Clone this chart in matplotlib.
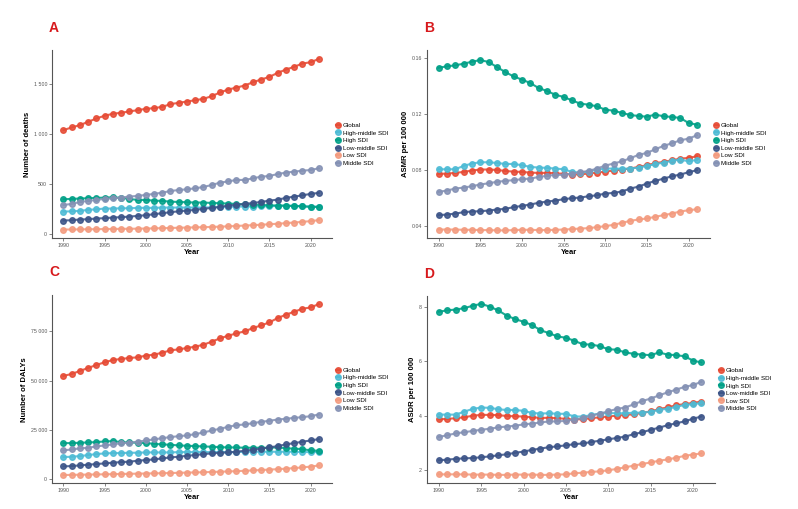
import numpy as np
import matplotlib
matplotlib.use("Agg")
import matplotlib.pyplot as plt

plt.rcParams["font.family"] = "Liberation Sans"

years = list(range(1990, 2022))
regions = ["Global", "High-middle SDI", "High SDI", "Low-middle SDI", "Low SDI", "Middle SDI"]
colors = ["#E64B35", "#4DBBD5", "#00A087", "#3C5488", "#F39B7F", "#8491B4"]

# A - number of deaths
deaths_global = [1036, 1063, 1086, 1119, 1152, 1179, 1199, 1209, 1222, 1235, 1248, 1255, 1268, 1295, 1308, 1321,
                 1334, 1348, 1374, 1411, 1440, 1460, 1480, 1513, 1540, 1566, 1606, 1639, 1666, 1699, 1712, 1745]
deaths_highmid = [225, 228, 232, 242, 248, 255, 255, 258, 258, 262, 262, 262, 265, 265, 265, 265,
                  265, 265, 268, 268, 272, 275, 275, 275, 278, 278, 281, 281, 281, 278, 275, 272]
deaths_high = [348, 351, 355, 358, 361, 364, 368, 361, 351, 341, 341, 334, 331, 324, 321, 318,
               315, 315, 311, 308, 305, 301, 298, 295, 291, 288, 285, 285, 281, 278, 272, 272]
deaths_lowmid = [136, 139, 146, 149, 156, 159, 166, 169, 175, 182, 189, 199, 209, 219, 228, 235,
                 242, 252, 262, 272, 285, 291, 301, 311, 321, 334, 344, 361, 374, 387, 401, 411]
deaths_low = [46, 47, 48, 49, 50, 51, 52, 53, 54, 55, 56, 58, 60, 62, 64, 66,
              68, 70, 72, 75, 78, 82, 86, 90, 94, 99, 104, 110, 116, 123, 130, 140]
deaths_middle = [291, 301, 321, 331, 341, 351, 358, 364, 374, 381, 391, 401, 414, 430, 440, 447,
                 457, 470, 490, 513, 526, 540, 540, 556, 573, 579, 599, 613, 623, 632, 639, 656]

# B - ASMR per 100 000
asmr_global = [0.0774, 0.0776, 0.0781, 0.0788, 0.0798, 0.0805, 0.0805, 0.0802, 0.0795, 0.0790, 0.0788, 0.0783,
               0.0781, 0.0781, 0.0779, 0.0774, 0.0769, 0.0771, 0.0776, 0.0783, 0.0790, 0.0798, 0.0805, 0.0812,
               0.0824, 0.0836, 0.0850, 0.0860, 0.0871, 0.0883, 0.0888, 0.0900]
asmr_highmid = [0.0807, 0.0807, 0.0807, 0.0831, 0.0848, 0.0857, 0.0857, 0.0852, 0.0845, 0.0845, 0.0836, 0.0824,
                0.0819, 0.0817, 0.0812, 0.0807, 0.0788, 0.0783, 0.0790, 0.0805, 0.0812, 0.0812, 0.0810, 0.0812,
                0.0819, 0.0831, 0.0843, 0.0855, 0.0867, 0.0876, 0.0864, 0.0874]
asmr_high = [0.1533, 0.1543, 0.1550, 0.1562, 0.1576, 0.1588, 0.1574, 0.1538, 0.1502, 0.1471, 0.1448, 0.1424,
             0.1388, 0.1367, 0.1340, 0.1324, 0.1300, 0.1276, 0.1269, 0.1257, 0.1233, 0.1226, 0.1210, 0.1195,
             0.1188, 0.1183, 0.1198, 0.1186, 0.1181, 0.1174, 0.1138, 0.1126]
asmr_lowmid = [0.0479, 0.0483, 0.0490, 0.0500, 0.0505, 0.0507, 0.0512, 0.0519, 0.0524, 0.0536, 0.0545, 0.0555,
               0.0567, 0.0576, 0.0583, 0.0593, 0.0600, 0.0605, 0.0614, 0.0621, 0.0633, 0.0638, 0.0648, 0.0669,
               0.0683, 0.0705, 0.0724, 0.0740, 0.0757, 0.0769, 0.0786, 0.0800]
asmr_low = [0.0376, 0.0376, 0.0376, 0.0374, 0.0374, 0.0372, 0.0372, 0.0370, 0.0370, 0.0372, 0.0374, 0.0374,
            0.0372, 0.0372, 0.0374, 0.0376, 0.0379, 0.0383, 0.0386, 0.0393, 0.0400, 0.0410, 0.0424, 0.0438,
            0.0448, 0.0455, 0.0467, 0.0479, 0.0490, 0.0505, 0.0514, 0.0521]
asmr_middle = [0.0645, 0.0655, 0.0669, 0.0676, 0.0686, 0.0698, 0.0707, 0.0717, 0.0724, 0.0729, 0.0736, 0.0740,
               0.0752, 0.0760, 0.0767, 0.0767, 0.0776, 0.0786, 0.0795, 0.0812, 0.0833, 0.0848, 0.0864, 0.0886,
               0.0910, 0.0924, 0.0950, 0.0974, 0.0993, 0.1014, 0.1026, 0.1050]

# C - number of DALYs
dalys_global = [52365, 53378, 54899, 56419, 57939, 59291, 60473, 60980, 61486, 61824, 62669, 63176, 64189, 65372,
                65878, 66554, 67230, 68243, 69764, 71453, 72804, 73986, 75000, 76689, 78041, 79561, 81757, 83446,
                84966, 86486, 87162, 88851]
dalys_highmid = [11149, 11318, 11655, 12162, 12669, 13007, 13176, 13176, 13345, 13345, 13514, 13514, 13514, 13514,
                 13682, 13682, 13682, 13682, 13682, 13682, 13682, 13682, 13851, 13851, 13851, 13851, 13851, 13851,
                 13851, 13682, 13682, 13682]
dalys_high = [18243, 18243, 18412, 18581, 18750, 19088, 19257, 18750, 18581, 18412, 18243, 17905, 17568, 17399,
              17061, 16892, 16723, 16554, 16385, 16216, 16047, 16047, 15878, 15878, 15878, 15878, 16047, 15709,
              15372, 15203, 14527, 14358]
dalys_lowmid = [6419, 6588, 6926, 7264, 7601, 7939, 8277, 8615, 8784, 9291, 9628, 9966, 10473, 10980, 11318, 11824,
                12162, 12669, 13007, 13345, 13514, 13851, 14358, 14865, 15372, 16047, 16723, 17568, 18243, 18919,
                19595, 20270]
dalys_low = [2027, 2100, 2180, 2250, 2330, 2400, 2480, 2560, 2640, 2720, 2800, 2880, 2960, 3050, 3150, 3250,
             3350, 3460, 3580, 3700, 3850, 4000, 4180, 4370, 4570, 4780, 5000, 5250, 5550, 5900, 6300, 6900]
dalys_middle = [14527, 15034, 15540, 15878, 16554, 17061, 17568, 18243, 18412, 18919, 19595, 20101, 20777, 21284,
                21791, 22128, 22804, 23649, 24662, 25507, 26520, 27365, 27703, 28378, 29054, 29561, 30236, 30574,
                31081, 31419, 31926, 32770]

# D - ASDR per 100 000
asdr_global = [3.87, 3.88, 3.91, 3.94, 4.00, 4.03, 4.03, 4.02, 3.99, 3.98, 3.97, 3.94, 3.92, 3.92, 3.91, 3.88,
               3.86, 3.87, 3.91, 3.94, 3.97, 4.00, 4.03, 4.05, 4.10, 4.16, 4.24, 4.31, 4.38, 4.43, 4.47, 4.52]
asdr_highmid = [4.04, 4.04, 4.04, 4.15, 4.25, 4.30, 4.29, 4.24, 4.21, 4.21, 4.18, 4.10, 4.08, 4.09, 4.07, 4.07,
                3.97, 3.97, 4.02, 4.08, 4.10, 4.09, 4.09, 4.11, 4.11, 4.15, 4.21, 4.26, 4.32, 4.40, 4.42, 4.47]
asdr_high = [7.83, 7.88, 7.91, 7.96, 8.05, 8.12, 8.02, 7.88, 7.69, 7.56, 7.46, 7.34, 7.15, 7.04, 6.92, 6.87,
             6.76, 6.63, 6.62, 6.56, 6.45, 6.43, 6.33, 6.28, 6.25, 6.23, 6.33, 6.25, 6.23, 6.19, 6.03, 5.96]
asdr_lowmid = [2.36, 2.38, 2.41, 2.43, 2.44, 2.47, 2.50, 2.54, 2.58, 2.63, 2.68, 2.74, 2.79, 2.84, 2.87, 2.91,
               2.95, 2.98, 3.03, 3.08, 3.13, 3.18, 3.23, 3.32, 3.39, 3.48, 3.56, 3.65, 3.72, 3.79, 3.89, 3.97]
asdr_low = [1.84, 1.84, 1.84, 1.84, 1.83, 1.83, 1.83, 1.82, 1.82, 1.83, 1.83, 1.83, 1.82, 1.82, 1.83, 1.84,
            1.88, 1.90, 1.93, 1.95, 1.99, 2.04, 2.10, 2.16, 2.22, 2.28, 2.34, 2.39, 2.45, 2.52, 2.57, 2.61]
asdr_middle = [3.22, 3.28, 3.35, 3.39, 3.44, 3.48, 3.52, 3.57, 3.60, 3.63, 3.68, 3.71, 3.75, 3.79, 3.79, 3.81,
               3.86, 3.91, 4.00, 4.08, 4.16, 4.25, 4.30, 4.42, 4.54, 4.63, 4.75, 4.86, 4.96, 5.06, 5.13, 5.25]

panels = [
    ("A", "Number of deaths", [deaths_global, deaths_highmid, deaths_high, deaths_lowmid, deaths_low, deaths_middle],
     [0, 500, 1000, 1500], ["0", "500", "1 000", "1 500"], (-40, 1830), [0.065, 0.532, 0.351, 0.369]),
    ("B", "ASMR per 100 000", [asmr_global, asmr_highmid, asmr_high, asmr_lowmid, asmr_low, asmr_middle],
     [0.04, 0.08, 0.12, 0.16], ["0.04", "0.08", "0.12", "0.16"], (0.0314, 0.1657), [0.535, 0.532, 0.355, 0.369]),
    ("C", "Number of DALYs", [dalys_global, dalys_highmid, dalys_high, dalys_lowmid, dalys_low, dalys_middle],
     [0, 25000, 50000, 75000], ["0", "25 000", "50 000", "75 000"], (-2040, 93370), [0.065, 0.051, 0.351, 0.369]),
    ("D", "ASDR per 100 000", [asdr_global, asdr_highmid, asdr_high, asdr_lowmid, asdr_low, asdr_middle],
     [2, 4, 6, 8], ["2", "4", "6", "8"], (1.52, 8.4), [0.535, 0.051, 0.361, 0.367]),
]

fig = plt.figure(figsize=(7.98, 5.09), dpi=100)

for letter, ylabel, series, yt, ytl, ylim, pos in panels:
    ax = fig.add_axes(pos)
    for name, vals, c in zip(regions, series, colors):
        ax.plot(years, vals, color=c, lw=1.5, marker="o", markersize=4, alpha=0.88, label=name)
    ax.set_xlim(1988.6, 2022.6)
    ax.set_ylim(*ylim)
    ax.set_xticks([1990, 1995, 2000, 2005, 2010, 2015, 2020])
    ax.set_yticks(yt)
    ax.set_yticklabels(ytl)
    ax.tick_params(labelsize=3.8, colors="#555555", length=2, width=0.5, pad=1.5)
    for s in ["top", "right"]:
        ax.spines[s].set_visible(False)
    for s in ["left", "bottom"]:
        ax.spines[s].set_color("#555555")
        ax.spines[s].set_linewidth(0.8)
    ax.set_xlabel("Year", fontsize=5.5, fontweight="bold", labelpad=1)
    ax.set_ylabel(ylabel, fontsize=5.5, fontweight="bold", labelpad=2)
    ax.text(-0.01, 1.1, letter, transform=ax.transAxes, fontsize=10, fontweight="bold", color="#D7191C")
    ax.legend(loc="center left", bbox_to_anchor=(1.0, 0.5), frameon=False, fontsize=4.5,
              handlelength=0.6, handletextpad=0.4, labelspacing=0.35, borderaxespad=0.3,
              markerscale=1.0)

fig.savefig("out.png", dpi=100)
